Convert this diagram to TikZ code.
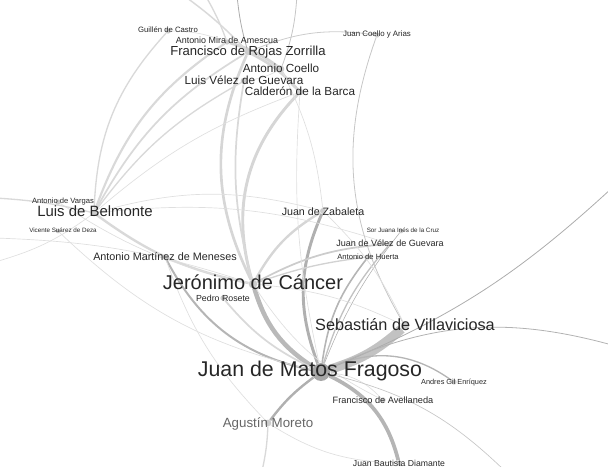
\documentclass[tikz,border=0pt]{standalone}
\usepackage{fontspec}
\setmainfont{Liberation Sans}
\usepackage{tikz}
\usetikzlibrary{backgrounds}
\tikzstyle{tie} = [gray!25, line width=0.5pt]
\tikzstyle{tie2} = [gray!30, line width=1.3pt]
\tikzstyle{tie3} = [gray!32, line width=2.2pt]
\tikzstyle{dtie} = [gray!65, line width=0.6pt]
\tikzstyle{dtie2} = [gray!58, line width=1.5pt]

\begin{document}
\begin{tikzpicture}[x=0.75pt, y=-0.75pt,
    pdot/.style={circle, fill=gray!40, inner sep=0pt, minimum size=#1},
    who/.style={anchor=base, inner sep=0pt, text=black!85, font=\fontsize{#1}{#1}\selectfont}
  ]
  \useasboundingbox (0,0) rectangle (608,467);

  % authors
  \node[pdot=13.5pt, fill=gray!70] (matos) at (321,372) {};
  \node[pdot=6.5pt] (jeronimo) at (253,284) {};
  \node[pdot=4pt] (rosete) at (223,298) {};
  \node[pdot=6.5pt] (villa) at (405,326) {};
  \node[pdot=4.5pt] (zabaleta) at (323,211) {};
  \node[pdot=3.5pt] (sorjuana) at (401,231) {};
  \node[pdot=4pt] (velezjr) at (390,244) {};
  \node[pdot=4pt] (huerta) at (368,257) {};
  \node[pdot=4pt] (meneses) at (165,257) {};
  \node[pdot=5pt] (belmonte) at (94,213) {};
  \node[pdot=4pt] (vargas) at (58,202) {};
  \node[pdot=3.5pt] (deza) at (58,231) {};
  \node[pdot=4pt] (castro) at (168,31) {};
  \node[pdot=4pt] (mira) at (227,42) {};
  \node[pdot=5pt] (rojas) at (248,52) {};
  \node[pdot=4pt] (coelloya) at (377,35) {};
  \node[pdot=5pt] (coello) at (281,69) {};
  \node[pdot=5pt] (velez) at (244,81) {};
  \node[pdot=5pt] (calderon) at (300,92) {};
  \node[pdot=4pt] (gil) at (454,382) {};
  \node[pdot=4pt] (avellaneda) at (383,400) {};
  \node[pdot=5pt] (moreto) at (268,423) {};
  \node[pdot=4pt] (diamante) at (399,463) {};

  % ends outside the frame
  \coordinate (top-a) at (183,-5);
  \coordinate (top-b) at (205,-5);
  \coordinate (top-c) at (237,-5);
  \coordinate (top-d) at (297,-5);
  \coordinate (right-a) at (612,188);
  \coordinate (right-b) at (612,345);
  \coordinate (bot-a) at (505,471);
  \coordinate (bot-b) at (262,471);
  \coordinate (left-a) at (-5,198);
  \coordinate (left-b) at (-5,238);
  \coordinate (left-c) at (-5,262);

  \begin{scope}[on background layer]
    \draw[gray!48, line width=7pt] (matos) to[bend right=12] (villa);
    \draw[gray!55, line width=3.4pt] (jeronimo) to[bend right=20] (matos);
    \draw[gray!62, line width=2.2pt] (zabaleta) to[bend right=22] (matos);
    \draw[gray!58, line width=2.8pt] (matos) to[bend left=25] (diamante);
    \draw[gray!62, line width=1.8pt] (matos) to[bend right=8] (moreto);
    \draw[dtie2, line width=1.2pt] (matos) to[bend left=15] (huerta);
    \draw[gray!48, line width=1pt] (matos) to[bend left=12] (velezjr);
    \draw[dtie2] (meneses) to[bend right=25] (matos);
    \draw[dtie2, line width=1pt] (matos) to[bend left=30] (gil);
    \draw[dtie, line width=0.4pt] (matos) to[bend left=8] (sorjuana);
    \draw[tie2] (rosete) to[bend right=12] (matos);
    \draw[tie] (matos) to[bend left=20] (avellaneda);
    \draw[tie3] (calderon) to[bend right=30] (jeronimo);
    \draw[tie3, line width=2pt] (rojas) to[bend right=25] (jeronimo);
    \draw[tie2] (velez) to[bend right=12] (jeronimo);
    \draw[tie3, line width=1.8pt] (jeronimo) to[bend left=15] (zabaleta);
    \draw[gray!40, line width=1.3pt] (jeronimo) to[bend left=12] (velezjr);
    \draw[gray!35, line width=1pt] (jeronimo) to[bend left=6] (huerta);
    \draw[tie] (jeronimo) to[bend left=10] (villa);
    \draw[tie] (jeronimo) to[bend right=15] (avellaneda);
    \draw[tie2, line width=1.8pt] (belmonte) to[bend right=12] (jeronimo);
    \draw[tie] (vargas) to[bend right=10] (jeronimo);
    \draw[tie2, line width=1pt] (castro) to[bend right=20] (belmonte);
    \draw[tie2, line width=1.6pt] (mira) to[bend right=18] (belmonte);
    \draw[tie2] (rojas) to[bend right=15] (belmonte);
    \draw[tie2, line width=1pt] (velez) to[bend right=12] (belmonte);
    \draw[tie] (calderon) to[bend right=10] (belmonte);
    \draw[tie] (belmonte) to[bend left=15] (zabaleta);
    \draw[tie] (belmonte) to[bend left=12] (velezjr);
    \draw[tie] (deza) to[bend right=15] (matos);
    \draw[tie3] (mira) to[bend left=10] (coello);
    \draw[tie3, line width=2pt] (rojas) to[bend left=10] (calderon);
    \draw[tie] (castro) to[bend left=10] (mira);
    \draw[tie] (velez) to[bend right=10] (coello);
    \draw[tie2, line width=1.1pt] (coello) to[bend right=10] (calderon);
    \draw[gray!40, line width=0.6pt] (rojas) to[bend left=15] (coelloya);
    \draw[gray!45, line width=0.6pt] (coelloya) to[bend right=25] (villa);
    \draw[tie] (calderon) to[bend right=8] (matos);
    \draw[tie] (coello) to[bend left=10] (zabaleta);
    \draw[tie] (zabaleta) to[bend left=10] (villa);
    \draw[tie] (meneses) to[bend right=12] (moreto);
    \draw[tie] (moreto) to[bend right=15] (diamante);
    \draw[tie2, line width=1.1pt] (top-a) to[bend left=5] (rojas);
    \draw[tie2, line width=1pt] (top-b) to[bend left=5] (mira);
    \draw[dtie] (top-c) to[bend right=5] (rojas);
    \draw[gray!45, line width=0.6pt] (top-d) to[bend left=8] (coello);
    \draw[dtie] (matos) to[bend right=10] (right-a);
    \draw[dtie, gray!60] (matos) to[bend left=20] (right-b);
    \draw[gray!45, line width=0.5pt] (matos) to[bend left=15] (bot-a);
    \draw[tie2, line width=1pt] (moreto) to[bend left=5] (bot-b);
    \draw[tie2, line width=1pt] (left-a) to[bend left=5] (belmonte);
    \draw[tie] (left-b) to[bend left=8] (jeronimo);
    \draw[tie] (left-c) to[bend right=10] (belmonte);
  \end{scope}

  % names
  \node[who=16] (matos-l) at (310,376) {Juan de Matos Fragoso};
  \node[who=15] (jeronimo-l) at (253,290) {Jerónimo de Cáncer};
  \node[who=6.6] (rosete-l) at (223,301) {Pedro Rosete};
  \node[who=12.2] (villa-l) at (405,330) {Sebastián de Villaviciosa};
  \node[who=8] (zabaleta-l) at (323,215) {Juan de Zabaleta};
  \node[who=4.7] (sorjuana-l) at (403,233) {Sor Juana Inés de la Cruz};
  \node[who=6.8] (velezjr-l) at (390,247) {Juan de Vélez de Guevara};
  \node[who=5.7] (huerta-l) at (368,259) {Antonio de Huerta};
  \node[who=8.1] (meneses-l) at (165,261) {Antonio Martínez de Meneses};
  \node[who=11.2] (belmonte-l) at (95,217) {Luis de Belmonte};
  \node[who=5.7] (vargas-l) at (63,204) {Antonio de Vargas};
  \node[who=4.7] (deza-l) at (63,233) {Vicente Suárez de Deza};
  \node[who=5.8] (castro-l) at (168,33) {Guillén de Castro};
  \node[who=6.7] (mira-l) at (227,44) {Antonio Mira de Amescua};
  \node[who=9.8] (rojas-l) at (248,56) {Francisco de Rojas Zorrilla};
  \node[who=5.9] (coelloya-l) at (377,37) {Juan Coello y Arias};
  \node[who=8.8] (coello-l) at (281,73) {Antonio Coello};
  \node[who=8.8] (velez-l) at (244,85) {Luis Vélez de Guevara};
  \node[who=8.8] (calderon-l) at (300,96) {Calderón de la Barca};
  \node[who=5.5] (gil-l) at (454,384) {Andres Gil Enríquez};
  \node[who=6.9] (avellaneda-l) at (383,403) {Francisco de Avellaneda};
  \node[who=10, text=black!60] (moreto-l) at (268,427) {Agustín Moreto};
  \node[who=6.5] (diamante-l) at (399,466) {Juan Bautista Diamante};

\end{tikzpicture}
\end{document}
